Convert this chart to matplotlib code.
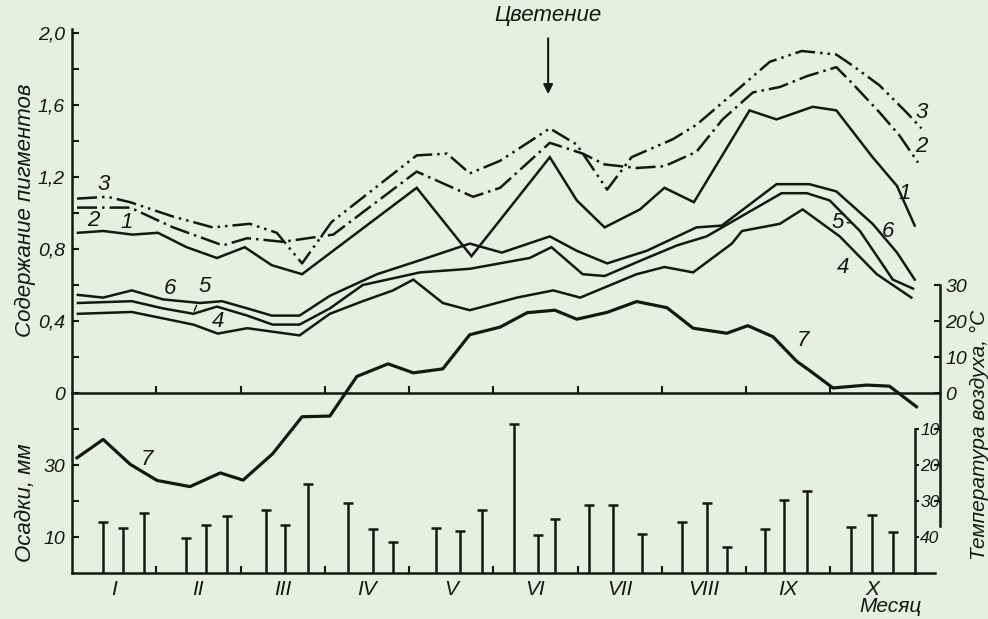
import matplotlib
matplotlib.use("Agg")
import matplotlib.pyplot as plt
import numpy as np
from matplotlib import font_manager


# months along the x axis (x in months from the start of January)
months = ["I", "II", "III", "IV", "V", "VI", "VII", "VIII", "IX", "X"]

# pigment content, curves 1..6
c1_x = [0.07, 0.37, 0.72, 1.02, 1.36, 1.72, 2.05, 2.37, 2.73, 4.09, 4.74, 5.67,
        5.99, 6.32, 6.74, 7.03, 7.38, 8.04, 8.36, 8.79, 9.07, 9.50, 9.79, 10.0]
c1_y = [0.89, 0.90, 0.88, 0.89, 0.81, 0.75, 0.81, 0.71, 0.66, 1.14, 0.76, 1.31,
        1.07, 0.92, 1.02, 1.14, 1.06, 1.57, 1.52, 1.59, 1.57, 1.31, 1.15, 0.93]

c2_x = [0.06, 0.53, 0.69, 1.20, 1.79, 2.08, 2.50, 3.10, 4.09, 4.76, 5.08, 5.67, 6.06,
        6.32, 6.70, 7.03, 7.41, 7.72, 8.08, 8.40, 8.72, 9.07, 9.26, 9.58, 9.82, 10.04]
c2_y = [1.03, 1.03, 1.03, 0.92, 0.82, 0.86, 0.84, 0.88, 1.23, 1.09, 1.14, 1.39, 1.33,
        1.27, 1.25, 1.26, 1.34, 1.52, 1.67, 1.70, 1.76, 1.81, 1.72, 1.56, 1.43, 1.28]

c3_x = [0.06, 0.42, 0.69, 1.20, 1.67, 2.11, 2.43, 2.73, 3.08, 4.09, 4.45, 4.72, 5.08,
        5.67, 5.99, 6.35, 6.64, 7.13, 7.41, 7.81, 8.28, 8.66, 9.07, 9.26, 9.58, 9.90, 10.08]
c3_y = [1.08, 1.09, 1.06, 0.98, 0.92, 0.94, 0.89, 0.72, 0.95, 1.32, 1.33, 1.22, 1.29,
        1.47, 1.38, 1.13, 1.31, 1.41, 1.49, 1.65, 1.84, 1.90, 1.88, 1.82, 1.71, 1.56, 1.47]

c4_x = [0.07, 0.71, 1.44, 1.73, 2.08, 2.70, 3.06, 3.45, 3.81, 4.05, 4.40, 4.72, 5.28,
        5.71, 6.03, 6.70, 7.03, 7.37, 7.83, 7.95, 8.40, 8.67, 9.11, 9.55, 9.96]
c4_y = [0.44, 0.45, 0.38, 0.33, 0.36, 0.32, 0.44, 0.51, 0.57, 0.63, 0.50, 0.46, 0.53,
        0.57, 0.53, 0.66, 0.70, 0.67, 0.83, 0.90, 0.94, 1.02, 0.87, 0.66, 0.53]

c5_x = [0.07, 0.71, 1.08, 1.44, 1.72, 2.08, 2.38, 2.70, 3.06, 3.45, 4.13, 4.72, 5.43,
        5.69, 6.06, 6.32, 6.77, 7.18, 7.53, 8.42, 8.72, 8.99, 9.35, 9.74, 9.98]
c5_y = [0.50, 0.51, 0.47, 0.44, 0.48, 0.43, 0.38, 0.38, 0.47, 0.60, 0.67, 0.69, 0.75,
        0.81, 0.66, 0.65, 0.74, 0.82, 0.87, 1.11, 1.11, 1.07, 0.90, 0.63, 0.58]

c6_x = [0.07, 0.37, 0.71, 1.08, 1.52, 1.78, 2.08, 2.37, 2.70, 3.06, 3.62, 4.21, 4.72,
        5.10, 5.67, 5.99, 6.35, 6.82, 7.41, 7.71, 8.36, 8.75, 9.07, 9.50, 9.79, 10.0]
c6_y = [0.545, 0.53, 0.57, 0.52, 0.50, 0.51, 0.47, 0.43, 0.43, 0.54, 0.66, 0.75, 0.83,
        0.78, 0.87, 0.79, 0.72, 0.79, 0.92, 0.93, 1.16, 1.16, 1.12, 0.94, 0.78, 0.63]

# curve 7: air temperature, deg C
temp_x = [0.06, 0.37, 0.69, 1.01, 1.40, 1.76, 2.03, 2.38, 2.73, 3.06, 3.38, 3.75,
          4.05, 4.40, 4.72, 5.08, 5.40, 5.73, 5.99, 6.35, 6.70, 7.06, 7.37, 7.77,
          8.02, 8.32, 8.60, 8.75, 9.03, 9.43, 9.70, 10.02]
temp_y = [-18.0, -12.9, -19.8, -24.3, -26.0, -22.2, -24.2, -16.9, -6.6, -6.4, 4.6, 8.1,
          5.6, 6.7, 16.2, 18.3, 22.3, 23.0, 20.5, 22.4, 25.4, 23.7, 18.0, 16.6,
          18.7, 15.6, 8.8, 6.3, 1.4, 2.2, 1.9, -3.8]

# precipitation per ten-day period, mm
precip_x = [0.37, 0.60, 0.85, 1.35, 1.59, 1.84, 2.30, 2.53, 2.80, 3.27, 3.57, 3.81,
            4.32, 4.60, 4.86, 5.25, 5.53, 5.73, 6.14, 6.42, 6.76, 7.24, 7.54, 7.77,
            8.22, 8.45, 8.72, 9.24, 9.49, 9.74]
precip = [14.3, 12.6, 16.6, 9.7, 13.4, 15.7, 17.4, 13.4, 24.6, 19.4, 12.3, 8.6,
          12.6, 11.7, 17.4, 41.4, 10.6, 15.1, 18.9, 18.9, 10.9, 14.3, 19.4, 7.1,
          12.3, 20.3, 22.9, 12.9, 16.0, 11.4]

pig_ticks = [0, 0.2, 0.4, 0.6, 0.8, 1.0, 1.2, 1.4, 1.6, 1.8, 2.0]
pig_labels = ["0", "", "0,4", "", "0,8", "", "1,2", "", "1,6", "", "2,0"]
prec_ticks = [10, 20, 30, 40]
prec_labels = ["10", "", "30", ""]
temp_ticks = [-30, -20, -10, 0, 10, 20, 30]
temp_labels = ["", "", "", "0", "10", "20", "30"]
neg_ticks = [-40, -30, -20, -10]
neg_labels = ["40", "30", "20", "10"]


names = {f.name for f in font_manager.fontManager.ttflist}
FONT = "Liberation Sans" if "Liberation Sans" in names else "DejaVu Sans"
plt.rcParams["font.family"] = [FONT, "DejaVu Sans"]
plt.rcParams["font.style"] = "italic"

ink = "#161616"
paper = "#e6efe2"
LW = 1.8

fig = plt.figure(figsize=(9.88, 6.19), dpi=100, facecolor=paper)
L, B, W, H = 72 / 988, 46 / 619, 868 / 988, 540 / 619
XMAX = 10.30

ax = fig.add_axes([L, B, W, H])
ax.set_facecolor("none")
ax.set_xlim(0, XMAX)
ax.set_ylim(-1.0, 2.0)

axP = ax.twinx()
axP.set_ylim(0, 150)
axT = ax.twinx()
axT.set_ylim(-50, 100)
axT2 = ax.twinx()
axT2.set_ylim(-50, 100)

for a in (ax, axP, axT, axT2):
    for s in a.spines.values():
        s.set_visible(False)
        s.set_linewidth(LW)
        s.set_color(ink)

# pigment curves
solid = dict(color=ink, lw=LW, solid_joinstyle="miter")
ax.plot(c1_x, c1_y, **solid)
ax.plot(c2_x, c2_y, color=ink, lw=LW, linestyle=(0, (8, 2, 1, 2)))
ax.plot(c3_x, c3_y, color=ink, lw=LW, linestyle=(0, (8, 2, 1, 2, 1, 2)))
ax.plot(c4_x, c4_y, **solid)
ax.plot(c5_x, c5_y, **solid)
ax.plot(c6_x, c6_y, **solid)

# temperature
axT.plot(temp_x, temp_y, color=ink, lw=2.3)

# precipitation bars
axP.vlines(precip_x, 0, precip, color=ink, lw=LW)
axP.plot(precip_x, precip, ls="none", marker="_", ms=7, mew=LW, color=ink)

# left axis
ax.spines["left"].set_visible(True)
ax.spines["left"].set_bounds(-1.0, 2.02)
ax.set_yticks(pig_ticks, labels=pig_labels)
ax.tick_params(axis="y", direction="in", length=5, width=1.5, pad=5,
               labelsize=14, colors=ink)
axP.yaxis.tick_left()
axP.set_yticks(prec_ticks, labels=prec_labels)
axP.tick_params(axis="y", direction="in", length=5, width=1.5, pad=5,
                labelsize=14, colors=ink)

# bottom axis
ax.spines["bottom"].set_visible(True)
ax.spines["bottom"].set_bounds(0, 10.24)
ax.set_xticks(np.arange(1, 10), labels=[""] * 9)
ax.set_xticks(np.arange(10) + 0.5, labels=months, minor=True)
ax.tick_params(axis="x", which="major", direction="in", length=5, width=1.5, colors=ink)
ax.tick_params(axis="x", which="minor", length=0, pad=5, labelsize=15, colors=ink)

# right temperature axis
axT.spines["right"].set_visible(True)
axT.spines["right"].set_bounds(-37, 30)
axT.set_yticks(temp_ticks, labels=temp_labels)
axT.tick_params(axis="y", direction="in", length=4, width=1.5, pad=4,
                labelsize=14, colors=ink)
axT2.spines["right"].set_visible(True)
axT2.spines["right"].set_position(("data", 10.0))
axT2.spines["right"].set_bounds(-50, -10)
axT2.set_yticks(neg_ticks, labels=neg_labels)
axT2.tick_params(axis="y", direction="out", length=3, width=1.5, pad=1,
                 labelsize=12.5, colors=ink)

# zero line with month ticks
axZ = fig.add_axes([L, B + H / 3, W, H * 2 / 3], sharex=ax)
axZ.set_facecolor("none")
for k, s in axZ.spines.items():
    s.set_visible(k == "bottom")
    s.set_linewidth(LW)
    s.set_color(ink)
axZ.set_yticks([])
axZ.tick_params(axis="x", which="both", direction="in", length=5, width=1.5,
                labelbottom=False, colors=ink)
axZ.tick_params(axis="x", which="minor", length=0)

# curve labels
lab = dict(fontsize=16, color=ink, ha="center", va="center")
ax.text(0.37, 1.16, "3", **lab)
ax.text(0.25, 0.96, "2", **lab)
ax.text(0.65, 0.95, "1", **lab)
ax.text(1.16, 0.58, "6", **lab)
ax.annotate("5", xy=(1.45, 0.455), xytext=(1.57, 0.59),
            arrowprops=dict(arrowstyle="-", lw=1, color=ink, shrinkA=4, shrinkB=0), **lab)
ax.text(1.73, 0.40, "4", **lab)
ax.text(10.08, 1.56, "3", **lab)
ax.text(10.08, 1.37, "2", **lab)
ax.text(9.88, 1.11, "1", **lab)
ax.annotate("5", xy=(9.25, 0.945), xytext=(9.09, 0.95),
            arrowprops=dict(arrowstyle="-", lw=1, color=ink, shrinkA=4, shrinkB=0), **lab)
ax.text(9.68, 0.90, "6", **lab)
ax.text(9.15, 0.70, "4", **lab)
ax.text(0.89, -0.37, "7", **lab)
ax.text(8.67, 0.29, "7", **lab)

# flowering mark
ax.text(5.65, 2.10, "Цветение", fontsize=16, color=ink, ha="center", va="center")
ax.annotate("", xy=(5.65, 1.66), xytext=(5.65, 1.97), annotation_clip=False,
            arrowprops=dict(arrowstyle="-|>", lw=1.5, color=ink, mutation_scale=14,
                            shrinkA=0, shrinkB=0))

# axis titles
fig.text(25 / 988, 1 - 210 / 619, "Содержание пигментов", rotation=90,
         ha="center", va="center", fontsize=16, color=ink)
fig.text(25 / 988, 1 - 503 / 619, "Осадки, мм", rotation=90,
         ha="center", va="center", fontsize=16, color=ink)
fig.text(979 / 988, 1 - 435 / 619, "Температура воздуха, °С", rotation=90,
         ha="center", va="center", fontsize=15, color=ink)
fig.text(890 / 988, 1 - 607 / 619, "Месяц", ha="center", va="center",
         fontsize=15, color=ink)

fig.savefig("out.png", dpi=100, facecolor=paper)
